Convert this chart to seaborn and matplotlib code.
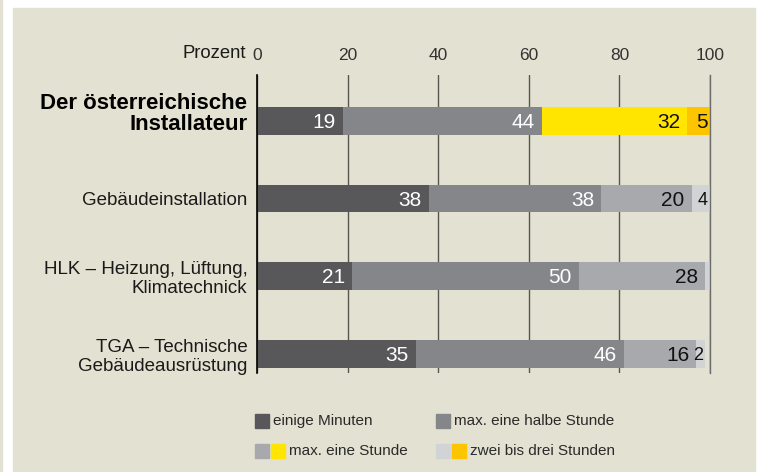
import matplotlib
matplotlib.use("Agg")
import matplotlib.pyplot as plt
from matplotlib.patches import Rectangle
from matplotlib.transforms import ScaledTranslation
import seaborn as sns
import pandas as pd

sns.set_style("white")
plt.rcParams["font.family"] = ["Liberation Sans", "DejaVu Sans"]

# data
categories = ["Der österreichische\nInstallateur", "Gebäudeinstallation",
              "HLK – Heizung, Lüftung,\nKlimatechnick",
              "TGA – Technische\nGebäudeausrüstung"]
minuten = [19, 38, 21, 35]
halbe_stunde = [44, 38, 50, 46]
eine_stunde = [32, 20, 28, 16]
zwei_drei = [5, 4, 1, 2]
ticks = [0, 20, 40, 60, 80, 100]
legend_labels = ["einige Minuten", "max. eine halbe Stunde",
                 "max. eine Stunde", "zwei bis drei Stunden"]

bg = "#e3e1d1"
dark, mid, light, vlight = "#58585a", "#858689", "#a8a9ac", "#d2d3d5"
yellow, orange = "#ffe500", "#fdc400"

levels = [minuten, halbe_stunde, eine_stunde, zwei_drei]
level_colors = [
    [dark] * 4,
    [mid] * 4,
    [yellow, light, light, light],
    [orange, vlight, vlight, vlight],
]
text_colors = ["white", "white", "#111111", "#111111"]

df = pd.DataFrame({"cat": categories})
cum = [0] * 4
cums = []
for vals in levels:
    cum = [c + v for c, v in zip(cum, vals)]
    cums.append(cum)

fig = plt.figure(figsize=(7.6, 4.72), dpi=100, facecolor="white")
fig.patches.append(Rectangle((13 / 760, 0), 742 / 760, 464 / 472,
                             transform=fig.transFigure, color=bg, zorder=-5))
fig.patches.append(Rectangle((0, 0), 2 / 760, 1,
                             transform=fig.transFigure, color=bg, zorder=-5))

ax = fig.add_axes([257 / 760, 1 - 373 / 472, 453 / 760, 298 / 472])
ax.set_facecolor(bg)
ax.set_axisbelow(True)

# stacked bars: draw cumulative totals from the back
for i in range(3, -1, -1):
    d = df.copy()
    d["x"] = cums[i]
    sns.barplot(data=d, x="x", y="cat", hue="cat", orient="h",
                palette=dict(zip(categories, level_colors[i])),
                legend=False, width=0.356, saturation=1, linewidth=0,
                ax=ax, zorder=2)

for i, vals in enumerate(levels):
    for r, v in enumerate(vals):
        if v < 2:
            continue
        end = cums[i][r]
        if v < 5:
            # tiny segments use a narrow face in the reference
            ax.text(end - 0.5, r + 0.02, str(v), ha="right", va="center",
                    fontsize=13, family=["Liberation Sans Narrow", "Liberation Sans"],
                    color=text_colors[i], zorder=5)
        elif v == 5:
            ax.text(end - 0.6, r + 0.02, str(v), ha="right", va="center",
                    fontsize=15, color=text_colors[i], zorder=5)
        else:
            ax.text(end - 1.6, r + 0.02, str(v), ha="right", va="center",
                    fontsize=15, color=text_colors[i], zorder=5)

ax.set_xlim(0, 100)
ax.set_ylim(3.245, -0.59)
ax.set_xticks(ticks)
ax.xaxis.tick_top()
ax.tick_params(axis="x", length=0, pad=9, labelsize=12.5, labelcolor="#333333")
ax.tick_params(axis="y", length=0, pad=7, labelsize=13.5, labelcolor="#1a1a1a")
ax.set_xlabel("")
ax.set_ylabel("")
ax.grid(axis="x", color="#57574f", linewidth=1)
ax.grid(axis="y", visible=False)
for s in ["top", "bottom"]:
    ax.spines[s].set_visible(False)
ax.spines["left"].set_color("black")
ax.spines["left"].set_linewidth(1.2)
ax.spines["right"].set_color("#6d6d6d")
ax.spines["right"].set_linewidth(1)

labels = ax.get_yticklabels()
for lab in labels:
    lab.set_linespacing(1.15)
labels[0].set_fontweight("bold")
labels[0].set_fontsize(16)
labels[0].set_linespacing(0.98)
labels[0].set_color("black")
labels[0].set_transform(labels[0].get_transform()
                        + ScaledTranslation(0, 0.09, fig.dpi_scale_trans))

fig.text(246 / 760, 1 - 53 / 472, "Prozent", ha="right", va="center",
         fontsize=13.3, color="#1a1a1a")

# legend
legend_items = [
    (255, 421, [dark], legend_labels[0]),
    (436, 421, [mid], legend_labels[1]),
    (255, 451, [light, yellow], legend_labels[2]),
    (436, 451, [vlight, orange], legend_labels[3]),
]
for x0, yc, cols, lab in legend_items:
    x = x0
    for c in cols:
        fig.patches.append(Rectangle((x / 760, 1 - (yc + 7) / 472), 14 / 760, 14 / 472,
                                     transform=fig.transFigure, color=c, zorder=3))
        x += 16
    fig.text((x + 2) / 760, 1 - yc / 472, lab, ha="left", va="center",
             fontsize=11, color="#2a2a2a")

fig.savefig("out.png", dpi=100, facecolor="white")
